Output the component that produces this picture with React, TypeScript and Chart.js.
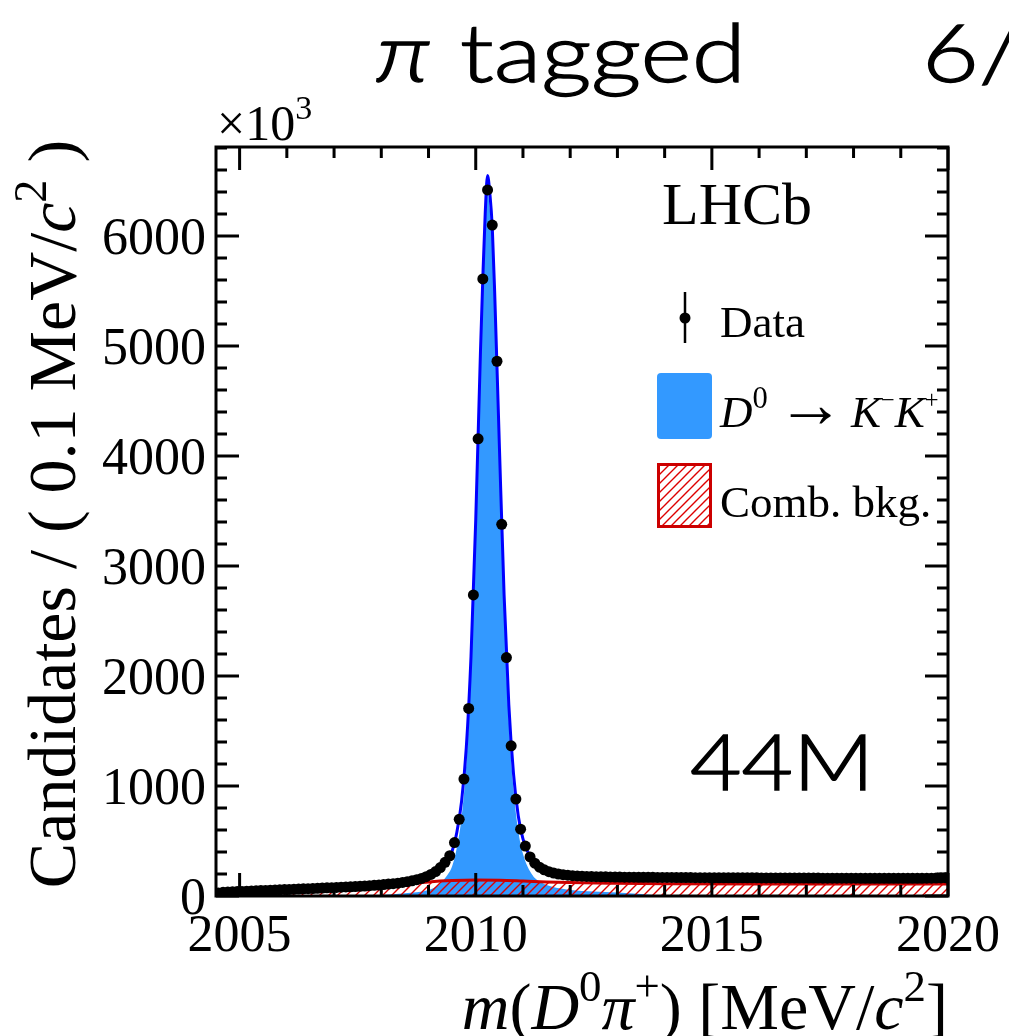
import React, { useEffect, useRef } from 'react';
import { Chart, registerables } from 'chart.js';

Chart.register(...registerables);

// ---------------- data ----------------
const massBins = [
  2004.55, 2004.65, 2004.75, 2004.85, 2004.95, 2005.05, 2005.15, 2005.25, 2005.35, 2005.45,
  2005.55, 2005.65, 2005.75, 2005.85, 2005.95, 2006.05, 2006.15, 2006.25, 2006.35, 2006.45,
  2006.55, 2006.65, 2006.75, 2006.85, 2006.95, 2007.05, 2007.15, 2007.25, 2007.35, 2007.45,
  2007.55, 2007.65, 2007.75, 2007.85, 2007.95, 2008.05, 2008.15, 2008.25, 2008.35, 2008.45,
  2008.55, 2008.65, 2008.75, 2008.85, 2008.95, 2009.05, 2009.15, 2009.25, 2009.35, 2009.45,
  2009.55, 2009.65, 2009.75, 2009.85, 2009.95, 2010.05, 2010.15, 2010.25, 2010.35, 2010.45,
  2010.55, 2010.65, 2010.75, 2010.85, 2010.95, 2011.05, 2011.15, 2011.25, 2011.35, 2011.45,
  2011.55, 2011.65, 2011.75, 2011.85, 2011.95, 2012.05, 2012.15, 2012.25, 2012.35, 2012.45,
  2012.55, 2012.65, 2012.75, 2012.85, 2012.95, 2013.05, 2013.15, 2013.25, 2013.35, 2013.45,
  2013.55, 2013.65, 2013.75, 2013.85, 2013.95, 2014.05, 2014.15, 2014.25, 2014.35, 2014.45,
  2014.55, 2014.65, 2014.75, 2014.85, 2014.95, 2015.05, 2015.15, 2015.25, 2015.35, 2015.45,
  2015.55, 2015.65, 2015.75, 2015.85, 2015.95, 2016.05, 2016.15, 2016.25, 2016.35, 2016.45,
  2016.55, 2016.65, 2016.75, 2016.85, 2016.95, 2017.05, 2017.15, 2017.25, 2017.35, 2017.45,
  2017.55, 2017.65, 2017.75, 2017.85, 2017.95, 2018.05, 2018.15, 2018.25, 2018.35, 2018.45,
  2018.55, 2018.65, 2018.75, 2018.85, 2018.95, 2019.05, 2019.15, 2019.25, 2019.35, 2019.45,
  2019.55, 2019.65, 2019.75, 2019.85, 2019.95,
];

const candidates = [
  28, 33, 36, 38, 40, 42, 44, 46, 48, 50,
  51, 53, 54, 56, 58, 59, 61, 63, 65, 67,
  68, 70, 72, 74, 76, 78, 80, 82, 84, 86,
  88, 91, 94, 97, 100, 104, 108, 112, 117, 123,
  130, 138, 148, 160, 176, 196, 222, 258, 306, 366,
  486, 697, 1063, 1705, 2737, 4157, 5610, 6420, 6100, 4862,
  3379, 2168, 1365, 881, 608, 454, 355, 298, 262, 238,
  221, 209, 200, 194, 189, 185, 182, 180, 178, 177,
  176, 175, 174, 173, 172, 172, 171, 171, 171, 170,
  170, 170, 170, 169, 169, 169, 169, 168, 168, 168,
  168, 167, 167, 167, 167, 166, 166, 166, 166, 166,
  165, 165, 165, 165, 165, 164, 164, 164, 164, 164,
  164, 163, 163, 163, 163, 163, 163, 163, 162, 162,
  162, 162, 162, 162, 162, 162, 161, 161, 161, 161,
  161, 161, 161, 161, 161, 161, 161, 161, 161, 161,
  162, 162, 163, 164, 166,
];

const fitMass = [
  2004.5, 2005, 2006, 2007, 2008, 2008.5, 2009, 2009.2, 2009.4, 2009.5,
  2009.6, 2009.7, 2009.8, 2009.9, 2010.0, 2010.1, 2010.15, 2010.2, 2010.25, 2010.3,
  2010.35, 2010.4, 2010.5, 2010.6, 2010.7, 2010.8, 2010.9, 2011.0, 2011.2, 2011.4,
  2011.6, 2012, 2013, 2014, 2016, 2018, 2020,
];
const fitTotal = [
  20, 42, 60, 79, 102, 126, 185, 238, 330, 410,
  580, 860, 1350, 2180, 3420, 4950, 5620, 6200, 6550, 6380,
  6080, 5500, 4100, 2740, 1740, 1110, 730, 520, 325, 248,
  214, 186, 172, 168, 164, 161, 162,
];

const signalMass = [
  2007.5, 2008, 2008.5, 2009, 2009.2, 2009.4, 2009.5, 2009.6, 2009.7, 2009.8,
  2009.9, 2010.0, 2010.1, 2010.15, 2010.2, 2010.25, 2010.3, 2010.35, 2010.4, 2010.5,
  2010.6, 2010.7, 2010.8, 2010.9, 2011.0, 2011.2, 2011.4, 2011.6, 2012, 2012.5,
  2013, 2013.5, 2014,
];
const signalYield = [
  0, 8, 25, 55, 95, 190, 270, 440, 715, 1205,
  2035, 3275, 4805, 5475, 6055, 6405, 6235, 5935, 5357, 3957,
  2598, 1600, 972, 593, 384, 190, 120, 86, 55, 42,
  32, 18, 0,
];

const bkgMass = [
  2004.5, 2005, 2005.5, 2006, 2006.5, 2007, 2007.5, 2008, 2008.5, 2009,
  2009.5, 2010, 2010.5, 2011, 2011.5, 2012, 2013, 2014, 2016, 2018, 2020,
];
const bkgYield = [
  0, 20, 35, 48, 58, 67, 76, 88, 108, 128,
  140, 145, 143, 136, 128, 122, 116, 112, 110, 110, 110,
];

const xTickLabels = [2005, 2010, 2015, 2020];
const xMinorTicks = [2005, 2006, 2007, 2008, 2009, 2010, 2011, 2012, 2013, 2014, 2015, 2016, 2017, 2018, 2019, 2020];
const yTickLabels = [0, 1000, 2000, 3000, 4000, 5000, 6000];
const yMinorTicks = [
  0, 200, 400, 600, 800, 1000, 1200, 1400, 1600, 1800, 2000, 2200, 2400, 2600, 2800, 3000, 3200, 3400,
  3600, 3800, 4000, 4200, 4400, 4600, 4800, 5000, 5200, 5400, 5600, 5800, 6000, 6200, 6400, 6600, 6800,
];

const legendLabels = ['Data', 'D0 → K−K+', 'Comb. bkg.'];

// ---------------- style ----------------
const SERIF = "'Liberation Serif', 'Times New Roman', serif";
const SANS = "Lato, 'Open Sans', Roboto, 'Liberation Sans', sans-serif";
const SIGNAL_BLUE = '#3399ff';
const FIT_BLUE = '#0000ff';
const BKG_RED = '#cc0000';

type Seg = { t: string; it?: boolean; sup?: boolean; k?: number };

function segFont(s: Seg, size: number, family: string, weight: string) {
  const sz = (s.sup ? size * 0.68 : size) * (s.k || 1);
  return `${s.it ? 'italic ' : ''}${weight} ${sz}px ${family}`;
}
function richWidth(ctx: CanvasRenderingContext2D, segs: Seg[], size: number, family: string, weight: string) {
  let w = 0;
  for (const s of segs) {
    ctx.font = segFont(s, size, family, weight);
    w += ctx.measureText(s.t).width;
  }
  return w;
}
function drawRich(
  ctx: CanvasRenderingContext2D,
  segs: Seg[],
  x: number,
  y: number,
  size: number,
  family: string,
  align: 'left' | 'right' | 'center' = 'left',
  weight = 'normal'
) {
  const w = richWidth(ctx, segs, size, family, weight);
  let cx = align === 'left' ? x : align === 'right' ? x - w : x - w / 2;
  ctx.textAlign = 'left';
  ctx.textBaseline = 'alphabetic';
  for (const s of segs) {
    ctx.font = segFont(s, size, family, weight);
    ctx.fillText(s.t, cx, s.sup ? y - size * 0.42 : y);
    cx += ctx.measureText(s.t).width;
  }
}
// draws text stretched horizontally so that it spans the given width
function drawFitted(ctx: CanvasRenderingContext2D, text: string, x: number, y: number, font: string, width: number) {
  ctx.font = font;
  ctx.textAlign = 'left';
  ctx.textBaseline = 'alphabetic';
  const w = ctx.measureText(text).width || 1;
  ctx.save();
  ctx.translate(x, y);
  ctx.scale(width / w, 1);
  ctx.fillText(text, 0, 0);
  ctx.lineWidth = 1.3;
  ctx.strokeStyle = '#000';
  ctx.strokeText(text, 0, 0);
  ctx.restore();
  return width / w;
}

function makeHatch(): CanvasPattern | string {
  const c = document.createElement('canvas');
  const n = 9;
  c.width = n;
  c.height = n;
  const g = c.getContext('2d');
  if (!g) return BKG_RED;
  g.strokeStyle = '#dd0000';
  g.lineWidth = 1.4;
  g.beginPath();
  g.moveTo(-1, n + 1);
  g.lineTo(n + 1, -1);
  g.moveTo(-1, 1);
  g.lineTo(1, -1);
  g.moveTo(n - 1, n + 1);
  g.lineTo(n + 1, n - 1);
  g.stroke();
  const p = g.createPattern(c, 'repeat');
  return p || BKG_RED;
}

const overlayPlugin = {
  id: 'lhcbOverlay',
  afterDraw(chart: any) {
    const ctx: CanvasRenderingContext2D = chart.ctx;
    const { left, right, top, bottom } = chart.chartArea;
    const xs = chart.scales.x;
    const ys = chart.scales.y;
    ctx.save();
    ctx.fillStyle = '#000';
    ctx.strokeStyle = '#000';

    // frame
    ctx.lineWidth = 3;
    ctx.strokeRect(left, top, right - left, bottom - top);

    // ticks
    ctx.lineWidth = 3;
    ctx.beginPath();
    const MAJ = 23;
    const MIN = 11;
    for (const v of xMinorTicks) {
      const px = xs.getPixelForValue(v);
      const len = xTickLabels.includes(v) ? MAJ : MIN;
      ctx.moveTo(px, bottom);
      ctx.lineTo(px, bottom - len);
      ctx.moveTo(px, top);
      ctx.lineTo(px, top + len);
    }
    for (const v of yMinorTicks) {
      const py = ys.getPixelForValue(v);
      const len = yTickLabels.includes(v) ? MAJ : MIN;
      ctx.moveTo(left, py);
      ctx.lineTo(left + len, py);
      ctx.moveTo(right, py);
      ctx.lineTo(right - len, py);
    }
    ctx.stroke();

    // tick labels
    ctx.font = `52px ${SERIF}`;
    ctx.textBaseline = 'alphabetic';
    ctx.textAlign = 'center';
    for (const v of xTickLabels) {
      ctx.fillText(String(v), xs.getPixelForValue(v), bottom + 55);
    }
    ctx.textAlign = 'right';
    for (const v of yTickLabels) {
      ctx.fillText(String(v), left - 10, ys.getPixelForValue(v) + 18);
    }

    // exponent
    drawRich(ctx, [{ t: '×10' }, { t: '3', sup: true }], left + 1, top - 7, 50, SERIF);

    // axis titles
    drawRich(
      ctx,
      [
        { t: 'm', it: true },
        { t: '(' },
        { t: 'D', it: true },
        { t: '0', sup: true },
        { t: 'π', it: true },
        { t: '+', sup: true },
        { t: ') [MeV/' },
        { t: 'c', it: true },
        { t: '2', sup: true },
        { t: ']' },
      ],
      right,
      1029,
      66,
      SERIF,
      'right'
    );
    ctx.save();
    ctx.translate(75, 514);
    ctx.rotate(-Math.PI / 2);
    drawRich(
      ctx,
      [{ t: 'Candidates / ( 0.1 MeV/' }, { t: 'c', it: true }, { t: '2', sup: true }, { t: ' )' }],
      0,
      0,
      68,
      SERIF,
      'center'
    );
    ctx.restore();

    // title
    const k = drawFitted(ctx, 'tagged', 460, 82, `300 80px ${SANS}`, 286);
    ctx.font = `italic 300 80px ${SANS}`;
    const wPi = ctx.measureText('π').width;
    drawFitted(ctx, 'π', 376, 82, `italic 300 80px ${SANS}`, Math.max(wPi * k, 46));
    ctx.font = `300 80px ${SANS}`;
    const w6 = ctx.measureText('6/').width;
    drawFitted(ctx, '6/', 922, 82, `300 80px ${SANS}`, w6 * k);

    // LHCb + sample size
    ctx.fillStyle = '#000';
    ctx.textAlign = 'right';
    ctx.font = `60px ${SERIF}`;
    ctx.fillText('LHCb', 812, 224);
    drawFitted(ctx, '44M', 690, 790, `300 76px ${SANS}`, 184);

    // legend
    ctx.fillStyle = '#000';
    ctx.strokeStyle = '#000';
    ctx.lineWidth = 2.5;
    ctx.beginPath();
    ctx.moveTo(685, 292);
    ctx.lineTo(685, 343);
    ctx.stroke();
    ctx.beginPath();
    ctx.arc(685, 318, 5.5, 0, Math.PI * 2);
    ctx.fill();
    drawRich(ctx, [{ t: legendLabels[0] }], 720, 337, 45, SERIF);

    ctx.fillStyle = SIGNAL_BLUE;
    ctx.beginPath();
    (ctx as any).roundRect(657, 373, 55, 66, 4);
    ctx.fill();
    ctx.fillStyle = '#000';
    drawRich(
      ctx,
      [
        { t: 'D', it: true },
        { t: '0', sup: true },
        { t: ' ', k: 0.8 },
        { t: '→', k: 1.5 },
        { t: ' ', k: 0.6 },
        { t: 'K', it: true },
        { t: '−', sup: true, k: 0.8 },
        { t: 'K', it: true },
        { t: '+', sup: true, k: 0.8 },
      ],
      720,
      427,
      45,
      SERIF
    );

    ctx.fillStyle = chart.$hatch || BKG_RED;
    ctx.fillRect(658, 464, 53, 63);
    ctx.strokeStyle = BKG_RED;
    ctx.lineWidth = 3;
    ctx.strokeRect(658.5, 464.5, 52, 62);
    ctx.fillStyle = '#000';
    drawRich(ctx, [{ t: legendLabels[2] }], 720, 517, 45, SERIF);

    ctx.restore();
  },
};

export default function App() {
  const ref = useRef<HTMLCanvasElement | null>(null);

  useEffect(() => {
    const canvas = ref.current;
    if (!canvas) return;
    const hatch = makeHatch();
    const chart: any = new Chart(canvas, {
      type: 'line',
      data: {
        datasets: [
          {
            label: 'Data',
            data: massBins.map((m, i) => ({ x: m, y: candidates[i] })),
            showLine: false,
            pointRadius: 5.5,
            pointBackgroundColor: '#000',
            pointBorderWidth: 0,
            pointBorderColor: '#000',
            order: 1,
          },
          {
            label: 'Fit',
            data: fitMass.map((m, i) => ({ x: m, y: fitTotal[i] })),
            borderColor: FIT_BLUE,
            borderWidth: 3,
            pointRadius: 0,
            fill: false,
            cubicInterpolationMode: 'monotone',
            order: 2,
          },
          {
            label: 'Comb. bkg.',
            data: bkgMass.map((m, i) => ({ x: m, y: bkgYield[i] })),
            borderColor: BKG_RED,
            borderWidth: 3,
            backgroundColor: hatch,
            fill: 'origin',
            pointRadius: 0,
            cubicInterpolationMode: 'monotone',
            order: 3,
          },
          {
            label: 'Signal',
            data: signalMass.map((m, i) => ({ x: m, y: signalYield[i] })),
            borderColor: 'rgba(0,0,0,0)',
            borderWidth: 0,
            backgroundColor: SIGNAL_BLUE,
            fill: 'origin',
            pointRadius: 0,
            cubicInterpolationMode: 'monotone',
            order: 4,
          },
        ],
      },
      options: {
        responsive: false,
        maintainAspectRatio: false,
        devicePixelRatio: 1,
        animation: false,
        events: [],
        layout: { padding: { left: 216, right: 61, top: 147, bottom: 140 } },
        scales: {
          x: { type: 'linear', min: 2004.5, max: 2020, display: false },
          y: { type: 'linear', min: 0, max: 6810, display: false },
        },
        plugins: {
          legend: { display: false },
          tooltip: { enabled: false },
          title: { display: false },
        },
      },
      plugins: [overlayPlugin],
    });
    chart.$hatch = hatch;
    chart.draw();
    return () => chart.destroy();
  }, []);

  return (
    <div style={{ position: 'fixed', left: 0, top: 0, width: 1009, height: 1036, background: '#fff' }}>
      <canvas ref={ref} width={1009} height={1036} style={{ display: 'block' }} />
    </div>
  );
}
